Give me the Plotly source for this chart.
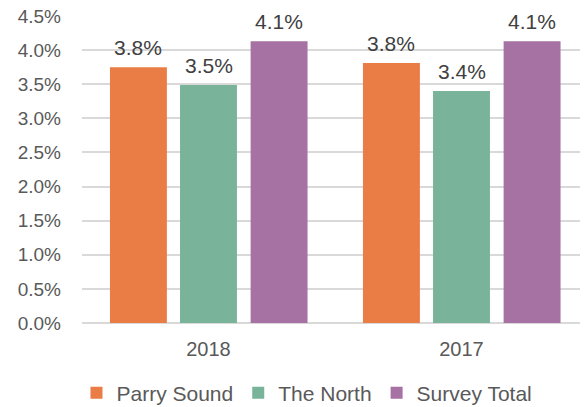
import plotly.graph_objects as go

categories = ["2018", "2017"]
series_names = ["Parry Sound", "The North", "Survey Total"]
parry_sound = [3.75, 3.81]
the_north = [3.49, 3.40]
survey_total = [4.13, 4.13]
y_ticks = [0.0, 0.5, 1.0, 1.5, 2.0, 2.5, 3.0, 3.5, 4.0, 4.5]

values = [parry_sound, the_north, survey_total]
colors = ["#EA7D45", "#79B39A", "#A572A3"]
centers = [-0.277, 0.0, 0.279]
width = 0.225
FONT = "Liberation Sans, Arial"

fig = go.Figure()
annotations = []
for name, vals, col, c in zip(series_names, values, colors, centers):
    fig.add_trace(go.Bar(
        name=name, x=categories, y=vals,
        width=width, offset=c - width / 2,
        marker=dict(color=col, line=dict(width=0)),
        cliponaxis=False,
    ))
    for i, v in enumerate(vals):
        annotations.append(dict(
            x=i + c, y=v, xref="x", yref="y",
            text=f"{v:.1f}%", showarrow=False,
            yanchor="bottom", yshift=6,
            font=dict(family=FONT, size=21, color="#404040"),
        ))

# the page body adds an 8px margin, so the figure is sized to fit the window
fig.update_layout(
    width=580, height=399,
    margin=dict(l=74, r=0, t=8, b=84, autoexpand=False),
    paper_bgcolor="white", plot_bgcolor="white",
    barmode="group",
    font=dict(family=FONT, size=19, color="#595959"),
    showlegend=True,
    legend=dict(orientation="h", xref="container", yref="container",
                x=0.5155, xanchor="center", y=0.035, yanchor="middle",
                font=dict(size=21, color="#595959"), itemwidth=30, traceorder="normal"),
    annotations=annotations,
)
fig.update_xaxes(type="category", showgrid=False, showline=False, ticks="", automargin=False,
                 tickfont=dict(size=20, color="#595959"), ticklabelstandoff=12)
fig.update_yaxes(range=[0, 4.5], tickvals=y_ticks, ticktext=[f"{t:.1f}%" for t in y_ticks],
                 showgrid=True, gridcolor="#D9D9D9", gridwidth=1.5, zeroline=True,
                 zerolinecolor="#D9D9D9", zerolinewidth=1.5, showline=False, automargin=False,
                 ticklabeloverflow="allow",
                 tickfont=dict(size=19, color="#595959"), ticklabelstandoff=20)

fig.write_html("out.html")
